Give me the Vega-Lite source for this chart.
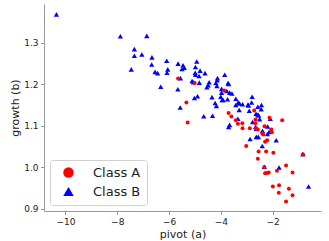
{
  "$schema": "https://vega.github.io/schema/vega-lite/v6.json",
  "width": 277,
  "height": 207,
  "autosize": "none",
  "padding": {"left": 44, "top": 4, "right": 8, "bottom": 30},
  "background": "white",
  "config": {
    "view": {"stroke": null},
    "font": "DejaVu Sans",
    "axis": {
      "grid": false,
      "domainColor": "#999",
      "tickColor": "#999",
      "tickSize": 3.5,
      "labelPadding": 2.5,
      "labelFont": "DejaVu Sans",
      "labelFontSize": 9,
      "labelColor": "#222",
      "titleFont": "DejaVu Sans",
      "titleFontSize": 11,
      "titleFontWeight": "normal",
      "titleColor": "#222"
    },
    "legend": {
      "orient": "bottom-left",
      "offset": 6,
      "strokeColor": "#d0d0d0",
      "fillColor": "white",
      "cornerRadius": 3,
      "padding": 6,
      "labelFont": "DejaVu Sans",
      "labelFontSize": 13,
      "labelColor": "#222",
      "symbolOffset": 6,
      "labelOffset": 18,
      "rowPadding": 5,
      "symbolSize": 110,
      "symbolStrokeWidth": 0
    }
  },
  "data": {
    "values": [
      {"a": -10.35, "b": 1.369, "cls": "Class B"}, {"a": -7.88, "b": 1.316, "cls": "Class B"}, {"a": -6.86, "b": 1.317, "cls": "Class B"},
      {"a": -7.34, "b": 1.285, "cls": "Class B"}, {"a": -7.34, "b": 1.269, "cls": "Class B"}, {"a": -7.05, "b": 1.272, "cls": "Class B"},
      {"a": -7.46, "b": 1.236, "cls": "Class B"}, {"a": -6.66, "b": 1.265, "cls": "Class B"}, {"a": -6.67, "b": 1.248, "cls": "Class B"},
      {"a": -6.54, "b": 1.23, "cls": "Class B"}, {"a": -6.44, "b": 1.227, "cls": "Class B"}, {"a": -6.32, "b": 1.194, "cls": "Class B"},
      {"a": -6.09, "b": 1.257, "cls": "Class B"}, {"a": -6.05, "b": 1.236, "cls": "Class B"}, {"a": -6.08, "b": 1.228, "cls": "Class B"},
      {"a": -5.65, "b": 1.25, "cls": "Class B"}, {"a": -5.46, "b": 1.246, "cls": "Class B"}, {"a": -5.41, "b": 1.24, "cls": "Class B"},
      {"a": -5.5, "b": 1.237, "cls": "Class B"}, {"a": -5.56, "b": 1.215, "cls": "Class B"}, {"a": -5.66, "b": 1.188, "cls": "Class B"},
      {"a": -5.57, "b": 1.144, "cls": "Class B"}, {"a": -4.93, "b": 1.255, "cls": "Class B"}, {"a": -4.98, "b": 1.242, "cls": "Class B"},
      {"a": -4.99, "b": 1.228, "cls": "Class B"}, {"a": -4.98, "b": 1.223, "cls": "Class B"}, {"a": -5.11, "b": 1.208, "cls": "Class B"},
      {"a": -5.06, "b": 1.205, "cls": "Class B"}, {"a": -4.8, "b": 1.233, "cls": "Class B"}, {"a": -4.84, "b": 1.22, "cls": "Class B"},
      {"a": -4.83, "b": 1.204, "cls": "Class B"}, {"a": -4.9, "b": 1.171, "cls": "Class B"}, {"a": -5.02, "b": 1.167, "cls": "Class B"},
      {"a": -4.61, "b": 1.227, "cls": "Class B"}, {"a": -4.45, "b": 1.205, "cls": "Class B"}, {"a": -4.49, "b": 1.198, "cls": "Class B"},
      {"a": -4.54, "b": 1.193, "cls": "Class B"}, {"a": -4.66, "b": 1.123, "cls": "Class B"}, {"a": -4.34, "b": 1.169, "cls": "Class B"},
      {"a": -4.32, "b": 1.124, "cls": "Class B"}, {"a": -4.22, "b": 1.155, "cls": "Class B"}, {"a": -4.17, "b": 1.148, "cls": "Class B"},
      {"a": -4.13, "b": 1.215, "cls": "Class B"}, {"a": -4.14, "b": 1.21, "cls": "Class B"}, {"a": -4.19, "b": 1.203, "cls": "Class B"},
      {"a": -4.15, "b": 1.196, "cls": "Class B"}, {"a": -3.97, "b": 1.189, "cls": "Class B"}, {"a": -3.97, "b": 1.18, "cls": "Class B"},
      {"a": -4.0, "b": 1.17, "cls": "Class B"}, {"a": -3.95, "b": 1.162, "cls": "Class B"}, {"a": -3.85, "b": 1.223, "cls": "Class B"},
      {"a": -3.72, "b": 1.203, "cls": "Class B"}, {"a": -3.7, "b": 1.201, "cls": "Class B"}, {"a": -3.77, "b": 1.184, "cls": "Class B"},
      {"a": -3.66, "b": 1.18, "cls": "Class B"}, {"a": -3.57, "b": 1.178, "cls": "Class B"}, {"a": -3.74, "b": 1.164, "cls": "Class B"},
      {"a": -3.66, "b": 1.102, "cls": "Class B"}, {"a": -3.7, "b": 1.097, "cls": "Class B"}, {"a": -3.42, "b": 1.165, "cls": "Class B"},
      {"a": -3.33, "b": 1.156, "cls": "Class B"}, {"a": -3.28, "b": 1.154, "cls": "Class B"}, {"a": -3.16, "b": 1.152, "cls": "Class B"},
      {"a": -3.42, "b": 1.15, "cls": "Class B"}, {"a": -3.29, "b": 1.138, "cls": "Class B"}, {"a": -3.34, "b": 1.117, "cls": "Class B"},
      {"a": -2.95, "b": 1.151, "cls": "Class B"}, {"a": -2.93, "b": 1.149, "cls": "Class B"}, {"a": -2.79, "b": 1.17, "cls": "Class B"},
      {"a": -2.81, "b": 1.156, "cls": "Class B"}, {"a": -2.9, "b": 1.136, "cls": "Class B"}, {"a": -2.77, "b": 1.109, "cls": "Class B"},
      {"a": -2.64, "b": 1.129, "cls": "Class B"}, {"a": -2.57, "b": 1.127, "cls": "Class B"}, {"a": -2.57, "b": 1.146, "cls": "Class B"},
      {"a": -2.43, "b": 1.15, "cls": "Class B"}, {"a": -2.44, "b": 1.14, "cls": "Class B"}, {"a": -2.54, "b": 1.125, "cls": "Class B"},
      {"a": -2.5, "b": 1.116, "cls": "Class B"}, {"a": -2.66, "b": 1.097, "cls": "Class B"}, {"a": -2.63, "b": 1.093, "cls": "Class B"},
      {"a": -2.87, "b": 1.068, "cls": "Class B"}, {"a": -2.63, "b": 1.073, "cls": "Class B"}, {"a": -2.55, "b": 1.073, "cls": "Class B"},
      {"a": -2.39, "b": 1.088, "cls": "Class B"}, {"a": -2.4, "b": 1.051, "cls": "Class B"}, {"a": -2.32, "b": 1.001, "cls": "Class B"},
      {"a": -2.19, "b": 1.098, "cls": "Class B"}, {"a": -2.14, "b": 1.085, "cls": "Class B"}, {"a": -2.09, "b": 1.117, "cls": "Class B"},
      {"a": -1.86, "b": 1.065, "cls": "Class B"}, {"a": -1.75, "b": 0.999, "cls": "Class B"}, {"a": -0.83, "b": 1.031, "cls": "Class B"},
      {"a": -0.61, "b": 0.953, "cls": "Class B"}, {"a": -3.91, "b": 1.162, "cls": "Class B"}, {"a": -2.2, "b": 1.08, "cls": "Class B"},
      {"a": -5.65, "b": 1.214, "cls": "Class A"}, {"a": -5.01, "b": 1.203, "cls": "Class A"}, {"a": -5.33, "b": 1.156, "cls": "Class A"},
      {"a": -5.28, "b": 1.108, "cls": "Class A"}, {"a": -3.87, "b": 1.185, "cls": "Class A"}, {"a": -3.7, "b": 1.131, "cls": "Class A"},
      {"a": -3.59, "b": 1.122, "cls": "Class A"}, {"a": -3.42, "b": 1.113, "cls": "Class A"}, {"a": -3.34, "b": 1.105, "cls": "Class A"},
      {"a": -3.17, "b": 1.106, "cls": "Class A"}, {"a": -3.16, "b": 1.094, "cls": "Class A"}, {"a": -3.02, "b": 1.051, "cls": "Class A"},
      {"a": -2.88, "b": 1.094, "cls": "Class A"}, {"a": -2.67, "b": 1.106, "cls": "Class A"}, {"a": -2.66, "b": 1.115, "cls": "Class A"},
      {"a": -2.63, "b": 1.093, "cls": "Class A"}, {"a": -2.57, "b": 1.091, "cls": "Class A"}, {"a": -2.71, "b": 1.137, "cls": "Class A"},
      {"a": -2.54, "b": 1.038, "cls": "Class A"}, {"a": -2.57, "b": 1.02, "cls": "Class A"}, {"a": -2.4, "b": 1.081, "cls": "Class A"},
      {"a": -2.31, "b": 1.099, "cls": "Class A"}, {"a": -2.29, "b": 1.061, "cls": "Class A"}, {"a": -2.21, "b": 1.065, "cls": "Class A"},
      {"a": -2.25, "b": 1.038, "cls": "Class A"}, {"a": -2.29, "b": 0.985, "cls": "Class A"}, {"a": -2.22, "b": 0.986, "cls": "Class A"},
      {"a": -2.15, "b": 0.987, "cls": "Class A"}, {"a": -2.12, "b": 1.119, "cls": "Class A"}, {"a": -2.05, "b": 1.091, "cls": "Class A"},
      {"a": -2.03, "b": 1.084, "cls": "Class A"}, {"a": -1.97, "b": 1.035, "cls": "Class A"}, {"a": -1.99, "b": 0.953, "cls": "Class A"},
      {"a": -1.83, "b": 0.991, "cls": "Class A"}, {"a": -1.75, "b": 0.956, "cls": "Class A"}, {"a": -1.76, "b": 0.938, "cls": "Class A"},
      {"a": -1.63, "b": 1.113, "cls": "Class A"}, {"a": -1.48, "b": 1.004, "cls": "Class A"}, {"a": -1.37, "b": 0.948, "cls": "Class A"},
      {"a": -1.48, "b": 0.917, "cls": "Class A"}, {"a": -1.23, "b": 0.987, "cls": "Class A"}, {"a": -1.23, "b": 0.932, "cls": "Class A"},
      {"a": -0.83, "b": 1.031, "cls": "Class A"}, {"a": -2.32, "b": 1.0, "cls": "Class A"}, {"a": -2.36, "b": 1.079, "cls": "Class A"}
    ]
  },
  "encoding": {
    "x": {
      "field": "a", "type": "quantitative", "title": "pivot (a)",
      "scale": {"domain": [-10.83, -0.13], "nice": false, "zero": false},
      "axis": {"values": [-10, -8, -6, -4, -2], "format": "d", "titlePadding": 2}
    },
    "y": {
      "field": "b", "type": "quantitative", "title": "growth (b)",
      "scale": {"domain": [0.894, 1.394], "nice": false, "zero": false},
      "axis": {"values": [0.9, 1.0, 1.1, 1.2, 1.3], "format": ".1f", "titlePadding": 3}
    },
    "color": {
      "field": "cls", "type": "nominal", "title": null,
      "scale": {"domain": ["Class A", "Class B"], "range": ["#ff0000", "#0000ff"]},
      "legend": {"title": null}
    },
    "shape": {
      "field": "cls", "type": "nominal", "title": null,
      "scale": {"domain": ["Class A", "Class B"], "range": ["circle", "triangle-up"]}
    }
  },
  "layer": [
    {
      "transform": [{"filter": "datum.cls === 'Class B'"}],
      "mark": {"type": "point", "filled": true, "opacity": 1, "size": 28}
    },
    {
      "transform": [{"filter": "datum.cls === 'Class A'"}],
      "mark": {"type": "point", "filled": true, "opacity": 1, "size": 16}
    }
  ]
}
